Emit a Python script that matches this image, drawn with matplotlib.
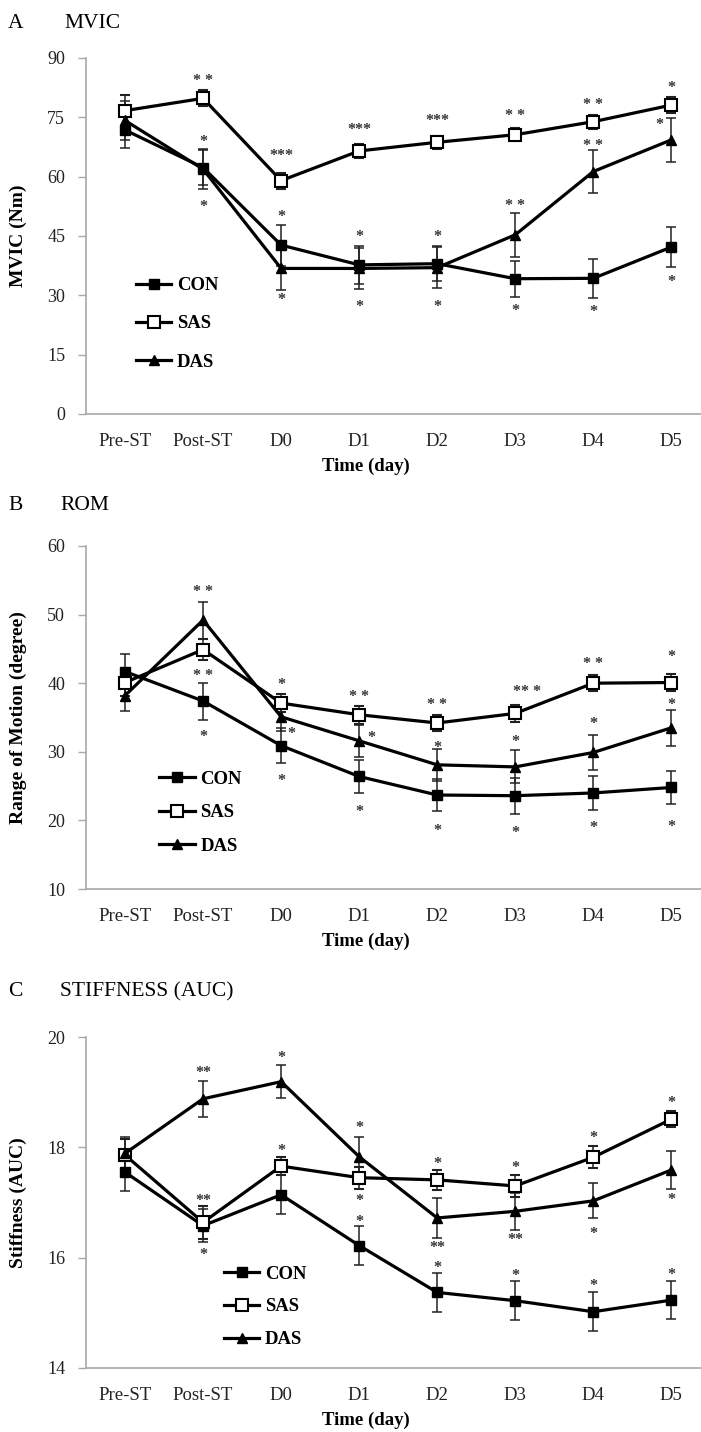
import matplotlib
matplotlib.use('agg')
import matplotlib.pyplot as plt

plt.rcParams['font.family'] = ['Liberation Serif', 'DejaVu Serif']

times = ['Pre-ST', 'Post-ST', 'D0', 'D1', 'D2', 'D3', 'D4', 'D5']

# A - MVIC (Nm)
mvic_con = [71.8, 62.3, 42.7, 37.7, 38.0, 34.2, 34.3, 42.2]
mvic_con_err = [4.5, 4.5, 5.2, 4.8, 4.5, 4.6, 5.0, 5.0]
mvic_sas = [76.7, 79.8, 59.0, 66.5, 68.7, 70.6, 73.9, 78.1]
mvic_sas_err = [4.0, 2.0, 2.0, 1.8, 1.6, 1.6, 1.8, 2.0]
mvic_das = [74.2, 61.9, 36.8, 36.8, 37.0, 45.3, 61.3, 69.3]
mvic_das_err = [5.0, 5.0, 5.5, 5.2, 5.2, 5.6, 5.5, 5.5]
mvic_star_x = [1, 1, 1, 2, 2, 2, 3, 3, 3, 4, 4, 4, 5, 5, 5, 6, 6, 6, 7, 6.85, 7]
mvic_star_y = [85.5, 70.0, 53.5, 66.5, 51.0, 30.0, 73.0, 46.0, 28.3, 75.2, 46.0, 28.3,
               76.6, 53.8, 27.3, 79.4, 69.0, 26.9, 83.7, 74.3, 34.6]
mvic_star_txt = ['* *', '*', '*', '***', '*', '*', '***', '*', '*', '***', '*', '*',
                 '* *', '* *', '*', '* *', '* *', '*', '*', '*', '*']

# B - ROM (degree)
rom_con = [41.7, 37.4, 30.9, 26.4, 23.7, 23.6, 24.0, 24.8]
rom_con_err = [2.5, 2.7, 2.5, 2.4, 2.3, 2.6, 2.5, 2.4]
rom_sas = [40.1, 44.9, 37.1, 35.4, 34.2, 35.6, 40.0, 40.1]
rom_sas_err = [2.0, 1.5, 1.3, 1.3, 1.2, 1.2, 1.2, 1.3]
rom_das = [38.2, 49.2, 35.1, 31.6, 28.1, 27.8, 29.9, 33.5]
rom_das_err = [2.3, 2.7, 2.0, 2.3, 2.3, 2.4, 2.6, 2.6]
rom_star_x = [1, 1, 1, 2, 2.13, 2, 3, 3.15, 3, 4, 4, 4, 5.15, 5, 5, 6, 6, 6, 7, 7, 7]
rom_star_y = [54.0, 41.8, 32.9, 40.4, 33.3, 26.5, 38.7, 32.7, 21.9, 37.5, 31.3, 19.1,
              39.4, 32.2, 18.9, 43.5, 34.7, 19.6, 44.5, 37.6, 19.7]
rom_star_txt = ['* *', '* *', '*', '*', '*', '*', '* *', '*', '*', '* *', '*', '*',
                '** *', '*', '*', '* *', '*', '*', '*', '*', '*']

# C - Stiffness (AUC)
stf_con = [17.55, 16.58, 17.14, 16.22, 15.37, 15.22, 15.02, 15.23]
stf_con_err = [0.35, 0.30, 0.35, 0.35, 0.36, 0.35, 0.35, 0.35]
stf_sas = [17.86, 16.64, 17.66, 17.45, 17.41, 17.30, 17.82, 18.51]
stf_sas_err = [0.30, 0.30, 0.17, 0.20, 0.18, 0.20, 0.20, 0.15]
stf_das = [17.89, 18.88, 19.19, 17.83, 16.72, 16.84, 17.03, 17.59]
stf_das_err = [0.30, 0.33, 0.30, 0.35, 0.36, 0.33, 0.32, 0.35]
stf_star_x = [1, 1, 1, 2, 2, 3, 3, 3, 4, 4, 4, 5, 5, 5, 6, 6, 6, 7, 7, 7]
stf_star_y = [19.44, 17.12, 16.14, 19.70, 18.03, 18.43, 17.12, 16.74, 17.79, 16.26, 15.90,
              17.72, 16.41, 15.75, 18.25, 16.52, 15.57, 18.89, 17.14, 15.78]
stf_star_txt = ['**', '**', '*', '*', '*', '*', '*', '*', '*', '**', '*',
                '*', '**', '*', '*', '*', '*', '*', '*', '*']

W, H = 701, 1432
fig = plt.figure(figsize=(W / 100, H / 100), dpi=100)


def panel(top_px, bottom_px, con, con_err, sas, sas_err, das, das_err,
          sx, sy, stxt, ylim, yticks, ylabel, leg_x, leg_y, leg_space):
    left = 86 / W
    h_px = bottom_px - top_px
    ax = fig.add_axes([left, 1 - bottom_px / H, 1 - left, h_px / H])
    x = list(range(len(times)))
    common = dict(color='black', lw=2.3, ecolor='#222222', elinewidth=1.1,
                  capsize=3.5, capthick=1.1)
    c1 = ax.errorbar(x, con, yerr=con_err, marker='s', ms=7.5, mfc='black', mec='black',
                     label='CON', **common)
    c2 = ax.errorbar(x, sas, yerr=sas_err, marker='s', ms=8, mfc='white', mec='black',
                     mew=1.5, label='SAS', **common)
    c3 = ax.errorbar(x, das, yerr=das_err, marker='^', ms=7, mfc='black', mec='black',
                     label='DAS', **common)
    for xi, yi, t in zip(sx, sy, stxt):
        ax.annotate(t, (xi, yi), xytext=(0, -3.5), textcoords='offset points',
                    ha='center', va='center', fontsize=11.5, fontweight='bold',
                    color='#333333')
    ax.set_xlim(-0.5, 7.38)
    ax.set_ylim(*ylim)
    ax.set_yticks(yticks)
    ax.set_xticks(x)
    ax.set_xticklabels(times)
    for s in ['top', 'right']:
        ax.spines[s].set_visible(False)
    for s in ['left', 'bottom']:
        ax.spines[s].set_color('#a8a8a8')
        ax.spines[s].set_linewidth(1.2)
    ax.tick_params(axis='y', length=6, width=1, color='#a8a8a8', pad=9, labelsize=13,
                   labelcolor='#222222')
    ax.tick_params(axis='x', length=0, pad=14, labelsize=13.5, labelcolor='#222222')
    ax.set_xlabel('Time (day)', fontweight='bold', fontsize=13.5)
    ax.xaxis.set_label_coords(0.455, -44 / h_px)
    ax.set_ylabel(ylabel, fontweight='bold', fontsize=14)
    ax.yaxis.set_label_coords(-(86 - 27) / (W - 86), 0.5)
    ax.legend([c1[0], c2[0], c3[0]], ['CON', 'SAS', 'DAS'],
              loc='upper left', bbox_to_anchor=(leg_x, leg_y), frameon=False,
              numpoints=1, handlelength=1.9, handletextpad=0.3, borderpad=0,
              borderaxespad=0, labelspacing=leg_space,
              prop={'weight': 'bold', 'size': 13.5})
    return ax


panel(58, 414, mvic_con, mvic_con_err, mvic_sas, mvic_sas_err, mvic_das, mvic_das_err,
      mvic_star_x, mvic_star_y, mvic_star_txt, (0, 90), range(0, 91, 15), 'MVIC (Nm)',
      0.081, 0.385, 1.13)
panel(546, 889, rom_con, rom_con_err, rom_sas, rom_sas_err, rom_das, rom_das_err,
      rom_star_x, rom_star_y, rom_star_txt, (10, 60), range(10, 61, 10),
      'Range of Motion (degree)', 0.119, 0.345, 0.87)
panel(1037, 1368, stf_con, stf_con_err, stf_sas, stf_sas_err, stf_das, stf_das_err,
      stf_star_x, stf_star_y, stf_star_txt, (14, 20), range(14, 21, 2),
      'Stiffness (AUC)', 0.224, 0.31, 0.84)

fig.text(8 / W, 1 - 23 / H, 'A', fontsize=15.5, va='center')
fig.text(64 / W, 1 - 23 / H, 'MVIC', fontsize=15.5, va='center')
fig.text(8 / W, 1 - 505 / H, 'B', fontsize=15.5, va='center')
fig.text(60 / W, 1 - 505 / H, 'ROM', fontsize=15.5, va='center')
fig.text(8 / W, 1 - 992 / H, 'C', fontsize=15.5, va='center')
fig.text(60 / W, 1 - 992 / H, 'STIFFNESS (AUC)', fontsize=15.5, va='center')

plt.savefig('out.png', dpi=100)
